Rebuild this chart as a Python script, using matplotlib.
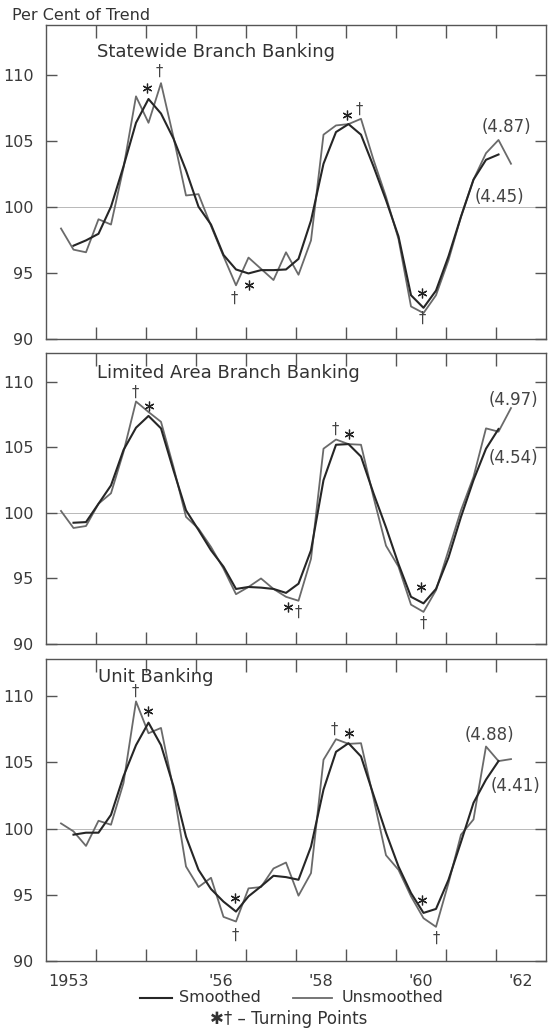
import numpy as np
import matplotlib
matplotlib.use("Agg")
import matplotlib.pyplot as plt
from matplotlib.lines import Line2D

plt.rcParams['font.family'] = ['DejaVu Sans']

# ---------------- data ----------------
# quarterly observations, first one plotted slightly after the start of 1953
quarters = 1953.3 + 0.25 * np.arange(37)

titles = ["Statewide Branch Banking", "Limited Area Branch Banking", "Unit Banking"]

unsm_state = [98.4, 96.8, 96.6, 99.1, 98.7, 103.0, 108.4, 106.4, 109.4, 105.3, 100.9, 101.0,
              98.6, 96.3, 94.1, 96.2, 95.35, 94.5, 96.6, 94.9, 97.5, 105.5, 106.2, 106.3,
              106.7, 103.6, 100.8, 97.6, 92.5, 92.0, 93.35, 96.0, 99.3, 102.1, 104.1, 105.1, 103.3]
smo_state = [97.1, 97.5, 98.0, 100.05, 103.1, 106.4, 108.2, 107.1, 105.2, 102.8, 100.05, 98.7,
             96.4, 95.3, 95.0, 95.25, 95.25, 95.3, 96.1, 99.0, 103.3, 105.7, 106.3, 105.5,
             103.1, 100.55, 97.8, 93.35, 92.4, 93.7, 96.3, 99.3, 102.1, 103.6, 104.0]

unsm_limited = [100.15, 98.85, 99.0, 100.7, 101.5, 104.65, 108.5, 107.7, 106.95, 103.5, 99.7, 98.8,
                97.4, 95.75, 93.8, 94.35, 95.0, 94.2, 93.6, 93.3, 96.5, 104.9, 105.6, 105.25,
                105.2, 101.2, 97.5, 95.9, 93.0, 92.45, 94.1, 97.15, 100.2, 102.75, 106.45, 106.2, 108.0]
smo_limited = [99.25, 99.3, 100.7, 102.1, 104.8, 106.5, 107.4, 106.45, 103.25, 100.2, 98.7, 97.15,
               95.9, 94.2, 94.35, 94.3, 94.2, 93.9, 94.6, 97.15, 102.5, 105.2, 105.25, 104.3,
               101.5, 98.9, 96.1, 93.6, 93.1, 94.2, 96.6, 99.7, 102.5, 104.9, 106.4]

unsm_unit = [100.4, 99.8, 98.7, 100.6, 100.3, 103.45, 109.6, 107.2, 107.6, 102.95, 97.15, 95.6,
             96.3, 93.35, 93.0, 95.5, 95.6, 97.0, 97.45, 94.95, 96.65, 105.2, 106.75, 106.4,
             106.45, 102.3, 98.0, 96.9, 94.9, 93.25, 92.6, 95.9, 99.55, 100.7, 106.2, 105.1, 105.25]
smo_unit = [99.55, 99.7, 99.7, 101.05, 103.95, 106.3, 108.0, 106.3, 103.2, 99.4, 96.9, 95.45,
            94.5, 93.75, 94.9, 95.65, 96.45, 96.35, 96.15, 98.65, 102.95, 105.8, 106.45, 105.45,
            102.55, 99.7, 97.15, 95.15, 93.65, 93.95, 96.15, 99.0, 101.95, 103.7, 105.1]

# turning point markers (x in years, y in per cent of trend)
star_x = [[1955.02, 1957.05, 1959.01, 1960.52],
          [1955.06, 1957.83, 1959.06, 1960.50],
          [1955.03, 1956.77, 1959.05, 1960.51]]
star_y = [[109.0, 94.1, 107.0, 93.55],
          [108.15, 92.8, 106.05, 94.35],
          [108.85, 94.8, 107.2, 94.65]]
dag_x = [[1955.27, 1956.77, 1959.26, 1960.52],
         [1954.78, 1958.04, 1958.79, 1960.54],
         [1954.79, 1956.78, 1958.77, 1960.80]]
dag_y = [[110.3, 93.1, 107.4, 91.6],
         [109.2, 92.45, 106.35, 91.55],
         [110.35, 92.0, 107.5, 91.75]]

# growth-rate notes
note_text = [["(4.87)", "(4.45)"], ["(4.97)", "(4.54)"], ["(4.88)", "(4.41)"]]
note_x = [[1962.21, 1962.06], [1962.34, 1962.34], [1961.87, 1962.39]]
note_y = [[106.1, 100.8], [108.6, 104.2], [107.1, 103.2]]

title_pos = [(1954.02, 111.75), (1954.02, 110.7), (1954.03, 111.45)]
ytops = [113.8, 112.2, 112.8]

year_ticks = [1954, 1955, 1956, 1957, 1958, 1959, 1960, 1961, 1962]
year_label_pos = [1953.45, 1956.5, 1958.5, 1960.5, 1962.5]
year_labels = ["1953", "'56", "'58", "'60", "'62"]
y_ticks = [90, 95, 100, 105, 110]

unsm = [unsm_state, unsm_limited, unsm_unit]
smo = [smo_state, smo_limited, smo_unit]

# ---------------- figure ----------------
W, H = 550, 1028
fig = plt.figure(figsize=(W / 100, H / 100), dpi=100)
fig.patch.set_facecolor('white')

# panel pixel boxes (top, bottom)
boxes = [(25, 339.5), (353, 644), (659, 961.3)]
left_px, right_px = 46, 546

txt_col = '#333333'
line_unsm = '#6a6a6a'
line_smo = '#262626'
spine_col = '#555555'

for i in range(3):
    top, bot = boxes[i]
    ax = fig.add_axes([left_px / W, 1 - bot / H, (right_px - left_px) / W, (bot - top) / H])
    ax.set_xlim(1953, 1963)
    ax.set_ylim(90, ytops[i])

    ax.axhline(100, color='#b8b8b8', lw=0.7, zorder=1)

    ax.plot(quarters, unsm[i], color=line_unsm, lw=1.3, zorder=3)
    ax.plot(quarters[1:36], smo[i], color=line_smo, lw=1.5, zorder=4)

    ax.plot(star_x[i], star_y[i], linestyle='none', marker=(6, 2, 0), ms=7, mew=0.9,
            color='#222222', zorder=5)
    for xx, yy in zip(dag_x[i], dag_y[i]):
        ax.text(xx, yy, "\u2020", ha='center', va='center', fontsize=10.5, color='#444444', zorder=5)

    for t, xx, yy in zip(note_text[i], note_x[i], note_y[i]):
        ax.text(xx, yy, t, ha='center', va='center', fontsize=12, color='#444444')

    ax.text(title_pos[i][0], title_pos[i][1], titles[i], ha='left', va='center',
            fontsize=13, color=txt_col)

    ax.set_yticks(y_ticks)
    ax.set_yticklabels([str(v) for v in y_ticks], fontsize=11.5, color='#3a3a3a')
    ax.tick_params(axis='y', direction='in', length=8, width=1, color=spine_col,
                   left=True, right=True, pad=9)
    ax.set_xticks(year_ticks)
    ax.set_xticklabels([])
    ax.tick_params(axis='x', which='major', direction='in', length=9, width=1,
                   color=spine_col, top=True, bottom=True)
    if i == 2:
        ax.set_xticks(year_label_pos, minor=True)
        ax.set_xticklabels(year_labels, minor=True, fontsize=11.5, color='#3a3a3a')
        ax.tick_params(axis='x', which='minor', length=0, pad=9)
    for s in ax.spines.values():
        s.set_color(spine_col)
        s.set_linewidth(1.0)

fig.text(12 / W, 1 - 16 / H, "Per Cent of Trend", ha='left', va='center',
         fontsize=11.5, color=txt_col)

# legend
ly = 1 - 998 / H
fig.add_artist(Line2D([140 / W, 172 / W], [ly, ly], color=line_smo, lw=1.5))
fig.text(179 / W, ly, "Smoothed", ha='left', va='center', fontsize=11.5, color=txt_col)
fig.add_artist(Line2D([293 / W, 332 / W], [ly, ly], color=line_unsm, lw=1.3))
fig.text(342 / W, ly, "Unsmoothed", ha='left', va='center', fontsize=11.5, color=txt_col)
fig.text(289 / W, 1 - 1019 / H, "\u2731\u2020 \u2013 Turning Points", ha='center', va='center',
         fontsize=12, color=txt_col)

fig.savefig("out.png", dpi=100, facecolor='white')
